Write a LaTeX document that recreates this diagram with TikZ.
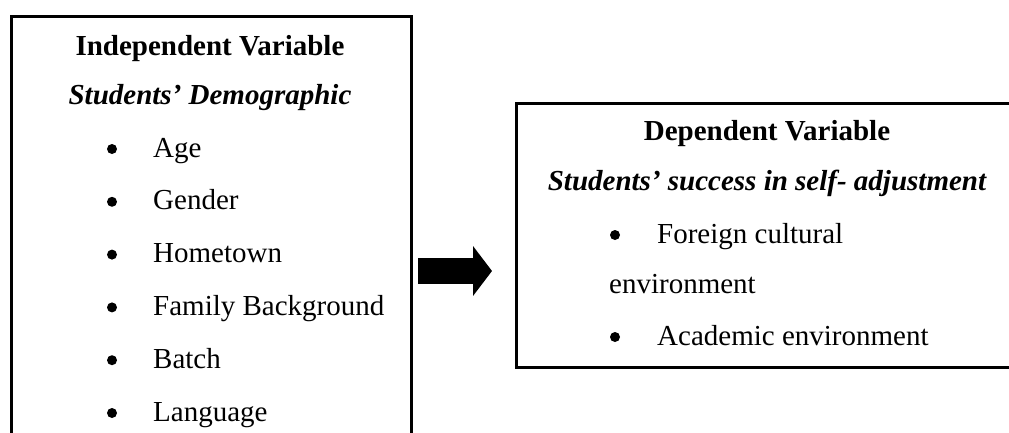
\documentclass[tikz,border=0pt]{standalone}
\usepackage{fontspec}
\setmainfont{Liberation Serif}
\usetikzlibrary{arrows.meta}
\begin{document}
\begin{tikzpicture}[x=1pt,y=-1pt,
    varbox/.style={draw, rectangle, line width=3pt, anchor=north west, inner sep=0pt},
    title/.style={anchor=base, inner sep=0pt, font=\fontsize{29}{34}\selectfont\bfseries},
    subtitle/.style={anchor=base, inner sep=0pt, font=\fontsize{29}{34}\selectfont\bfseries\itshape},
    dot/.style={circle, fill, inner sep=0pt, minimum size=10pt},
    item/.style={anchor=base west, inner sep=0pt, font=\fontsize{29}{34}\selectfont},
    bigarrow/.style={-{Triangle[length=19pt,width=49pt]}, line width=26pt}]
    \useasboundingbox (0,0) rectangle (1009,432);
    \clip (0,0) rectangle (1009,432);

    \node[varbox, minimum width=400pt, minimum height=440pt] (iv) at (10,15) {};
    \node[varbox, minimum width=540pt, minimum height=264pt] (dv) at (515,102) {};

    % independent side
    \node[title] (ivtitle) at (210,55) {Independent Variable};
    \node[subtitle] (ivsub) at (210,104) {Students’ Demographic};
    \foreach \name [count=\i] in {Age, Gender, Hometown, Family Background, Batch, Language} {
        \pgfmathsetmacro\yy{157+52.8*(\i-1)}
        \node[dot] (ivdot\i) at (112,\yy-8) {};
        \node[item] (ivitem\i) at (153,\yy) {\name};
    }

    % dependent side
    \node[title] (dvtitle) at (767,140) {Dependent Variable};
    \node[subtitle] (dvsub) at (767,190) {Students’ success in self- adjustment};
    \node[dot] (dvdot1) at (615,235) {};
    \node[item] (dvitem1) at (657,243) {Foreign cultural};
    \node[item] (dvitem1b) at (609,293) {environment};
    \node[dot] (dvdot2) at (615,337) {};
    \node[item] (dvitem2) at (657,345) {Academic environment};

    \coordinate (arrowtail) at (418,271);
    \coordinate (arrowtip) at (492,271);
    \draw[bigarrow] (arrowtail) -- (arrowtip);
\end{tikzpicture}
\end{document}
